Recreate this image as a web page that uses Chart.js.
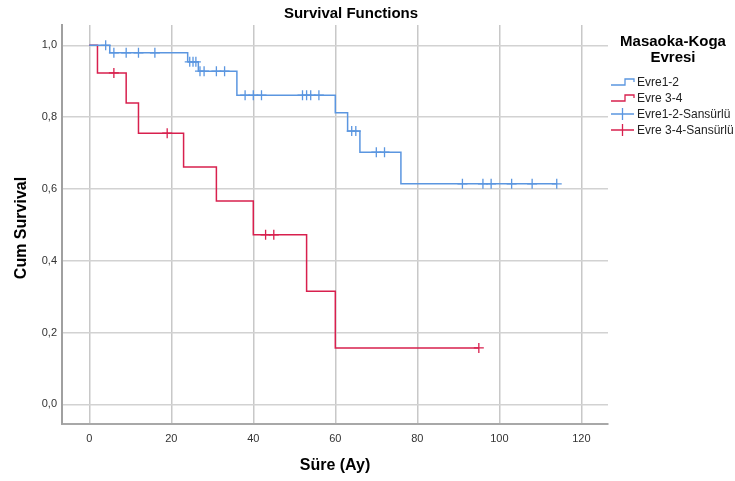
<!DOCTYPE html>
<html>
<head>
<meta charset="utf-8">
<script src="https://cdn.jsdelivr.net/npm/chart.js@4.4.0/dist/chart.umd.min.js"></script>
<style>
html,body{margin:0;padding:0;background:#fff;}
#wrap{width:735px;height:481px;position:relative;}
</style>
</head>
<body>
<div id="wrap"><canvas id="c" width="735" height="481"></canvas></div>
<script>
// Kaplan-Meier step data (time in months, cumulative survival)
const evre12Times = [0, 5, 24, 26.6, 36, 60, 63, 66, 76, 114];
const evre12Surv  = [1.0, 0.979, 0.954, 0.928, 0.861, 0.812, 0.761, 0.702, 0.614, 0.614];
const evre34Times = [0, 2, 9, 12, 23, 31, 40, 53, 60, 95];
const evre34Surv  = [1.0, 0.923, 0.839, 0.755, 0.661, 0.566, 0.472, 0.315, 0.157, 0.157];
// censored observations
const evre12CensTimes = [4, 6, 9, 12, 16, 24.5, 25.3, 26, 27, 28, 31, 33, 38, 40, 42, 52, 53, 54, 56, 64, 65, 70, 72, 91, 96, 98, 103, 108, 114];
const evre12CensSurv  = [1.0, 0.979, 0.979, 0.979, 0.979, 0.954, 0.954, 0.954, 0.928, 0.928, 0.928, 0.928, 0.861, 0.861, 0.861, 0.861, 0.861, 0.861, 0.861, 0.761, 0.761, 0.702, 0.702, 0.614, 0.614, 0.614, 0.614, 0.614, 0.614];
const evre34CensTimes = [6, 19, 43, 45, 95];
const evre34CensSurv  = [0.923, 0.755, 0.472, 0.472, 0.157];
// axis ticks
const xTicks = [0, 20, 40, 60, 80, 100, 120];
const yTicks = [0, 0.2, 0.4, 0.6, 0.8, 1.0];
const legendTitle = ["Masaoka-Koga", "Evresi"];
const legendLabels = ["Evre1-2", "Evre 3-4", "Evre1-2-Sansürlü", "Evre 3-4-Sansürlü"];

const BLUE = '#5b96e0';
const RED = '#d8204e';
const FONT = '"Liberation Sans", Arial, sans-serif';

const pts = (xs, ys) => xs.map((x, i) => ({x: x, y: ys[i]}));

const textPlugin = {
  id: 'texts',
  afterDraw(chart) {
    const ctx = chart.ctx;
    const ca = chart.chartArea;
    ctx.save();
    ctx.fillStyle = '#000';
    ctx.textAlign = 'center';
    ctx.textBaseline = 'middle';
    ctx.font = 'bold 15px ' + FONT;
    ctx.fillText('Survival Functions', 351, 14);
    ctx.font = 'bold 16px ' + FONT;
    ctx.fillText('Süre (Ay)', (ca.left + ca.right) / 2, 466);
    ctx.save();
    ctx.translate(22, 228);
    ctx.rotate(-Math.PI / 2);
    ctx.fillText('Cum Survival', 0, 0);
    ctx.restore();
    // legend
    ctx.font = 'bold 15px ' + FONT;
    ctx.fillText(legendTitle[0], 673, 42);
    ctx.fillText(legendTitle[1], 673, 58);
    ctx.textAlign = 'left';
    ctx.font = '12px ' + FONT;
    const ys = [82, 98, 114, 130];
    const cols = [BLUE, RED, BLUE, RED];
    for (let i = 0; i < 4; i++) {
      const y = ys[i];
      ctx.strokeStyle = cols[i];
      ctx.lineWidth = 1.3;
      ctx.beginPath();
      if (i < 2) {
        ctx.moveTo(611, y + 3);
        ctx.lineTo(625, y + 3);
        ctx.lineTo(625, y - 3);
        ctx.lineTo(634, y - 3);
        ctx.lineTo(634, y);
      } else {
        ctx.moveTo(611, y);
        ctx.lineTo(634, y);
        ctx.moveTo(622.5, y - 6);
        ctx.lineTo(622.5, y + 6);
      }
      ctx.stroke();
      ctx.fillStyle = '#222';
      ctx.fillText(legendLabels[i], 637, y + 1);
    }
    ctx.restore();
  }
};

new Chart(document.getElementById('c'), {
  type: 'scatter',
  data: {
    datasets: [
      {label: legendLabels[0], data: pts(evre12Times, evre12Surv), showLine: true, stepped: true,
       borderColor: BLUE, borderWidth: 1.5, pointRadius: 0, fill: false},
      {label: legendLabels[1], data: pts(evre34Times, evre34Surv), showLine: true, stepped: true,
       borderColor: RED, borderWidth: 1.5, pointRadius: 0, fill: false},
      {label: legendLabels[2], data: pts(evre12CensTimes, evre12CensSurv), showLine: false,
       pointStyle: 'cross', pointRadius: 5, pointBorderColor: BLUE, pointBorderWidth: 1.3, borderColor: BLUE},
      {label: legendLabels[3], data: pts(evre34CensTimes, evre34CensSurv), showLine: false,
       pointStyle: 'cross', pointRadius: 5, pointBorderColor: RED, pointBorderWidth: 1.3, borderColor: RED}
    ]
  },
  options: {
    responsive: false,
    animation: false,
    layout: {padding: {left: 0, right: 127, top: 25, bottom: 0}},
    plugins: {legend: {display: false}, tooltip: {enabled: false}, title: {display: false}},
    scales: {
      x: {
        type: 'linear', min: -6.65, max: 126.5,
        afterFit(s) { s.height = 57; },
        afterBuildTicks(s) { s.ticks = xTicks.map(v => ({value: v})); },
        grid: {color: '#c8c8c8', lineWidth: 1.5, drawTicks: false},
        border: {color: '#a8a8a8', width: 2},
        ticks: {padding: 8, color: '#333', font: {family: FONT, size: 11}, maxRotation: 0,
                callback: v => String(v)}
      },
      y: {
        type: 'linear', min: -0.0549, max: 1.0565,
        afterFit(s) { s.width = 62; },
        afterBuildTicks(s) { s.ticks = yTicks.map(v => ({value: v})); },
        grid: {color: '#d2d2d2', lineWidth: 1.5, drawTicks: false},
        border: {color: '#a0a0a0', width: 2},
        ticks: {padding: 5, color: '#333', font: {family: FONT, size: 11},
                callback: v => v.toFixed(1).replace('.', ',')}
      }
    }
  },
  plugins: [textPlugin]
});
</script>
</body>
</html>
